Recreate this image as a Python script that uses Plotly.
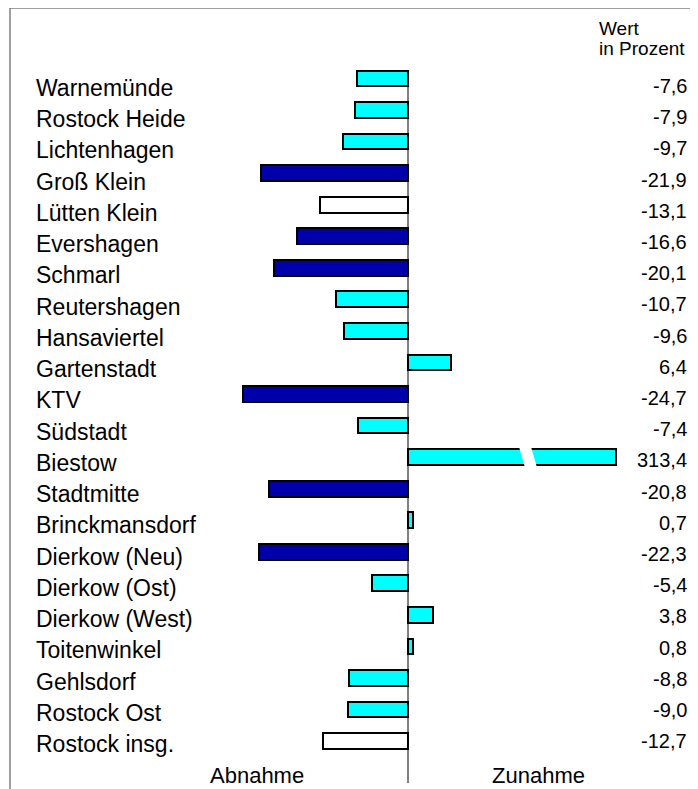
import plotly.graph_objects as go

districts = ["Warnemünde", "Rostock Heide", "Lichtenhagen", "Groß Klein", "Lütten Klein",
             "Evershagen", "Schmarl", "Reutershagen", "Hansaviertel", "Gartenstadt", "KTV",
             "Südstadt", "Biestow", "Stadtmitte", "Brinckmansdorf", "Dierkow (Neu)",
             "Dierkow (Ost)", "Dierkow (West)", "Toitenwinkel", "Gehlsdorf", "Rostock Ost",
             "Rostock insg."]
values = [-7.6, -7.9, -9.7, -21.9, -13.1, -16.6, -20.1, -10.7, -9.6, 6.4, -24.7,
          -7.4, 313.4, -20.8, 0.7, -22.3, -5.4, 3.8, 0.8, -8.8, -9.0, -12.7]
reference_rows = ["Lütten Klein", "Rostock insg."]
strong_decline = -15.0         # bars below this are dark blue
axis_break_cap = 31.1          # bars longer than this are drawn broken
header_text = ["Wert", "in Prozent"]
bottom_labels = ["Abnahme", "Zunahme"]

# page body has an 8px margin: work in screenshot pixels, shift by OFF
OFF = 8
W, H = 698 - OFF, 789 - OFF
L, T = 10 - OFF, 8 - OFF
px_per_unit = 6.69
zero_px = 408 - OFF
row0_px, row_step = 78.5 - OFF, 31.55

FONT = "Liberation Sans, Arial, sans-serif"
CYAN, BLUE, WHITE = "#00FFFF", "#0000AA", "#FFFFFF"

def color_for(name, v):
    if name in reference_rows:
        return WHITE
    if v < strong_decline:
        return BLUE
    return CYAN

n = len(districts)
ypos = list(range(n))
shown = [min(v, axis_break_cap) for v in values]
colors = [color_for(d, v) for d, v in zip(districts, values)]

fig = go.Figure(go.Bar(
    x=shown, y=ypos, orientation="h", width=0.5,
    marker=dict(color=colors, line=dict(color="black", width=2)),
    hoverinfo="skip",
))

xr = [-(zero_px - L) / px_per_unit, (W - zero_px) / px_per_unit]
ytop = (T - row0_px) / row_step
ybot = (H - row0_px) / row_step

pw = W - L
ph = H - T

def xpaper(px):
    return (px - OFF - L) / pw

def ypaper(py):
    return 1 - (py - OFF - T) / ph

annotations = []
for i, (d, v) in enumerate(zip(districts, values)):
    annotations.append(dict(
        text=d, xref="paper", x=xpaper(34), xanchor="left",
        yref="y", y=i, yanchor="middle", yshift=-(9.5 - 0.31 * i),
        showarrow=False, font=dict(family=FONT, size=23, color="black")))
    annotations.append(dict(
        text=f"{v:.1f}".replace(".", ","), xref="paper", x=xpaper(689), xanchor="right",
        yref="y", y=i, yanchor="middle", yshift=-(7.5 - 0.35 * i),
        showarrow=False, font=dict(family=FONT, size=20, color="black")))

annotations.append(dict(text=header_text[0], xref="paper", x=xpaper(597), xanchor="left",
                        yref="paper", y=ypaper(28), yanchor="middle", showarrow=False,
                        font=dict(family=FONT, size=19, color="black")))
annotations.append(dict(text=header_text[1], xref="paper", x=xpaper(597), xanchor="left",
                        yref="paper", y=ypaper(49), yanchor="middle", showarrow=False,
                        font=dict(family=FONT, size=19, color="black")))
annotations.append(dict(text=bottom_labels[0], xref="paper", x=xpaper(257), xanchor="center",
                        yref="paper", y=ypaper(775), yanchor="middle", showarrow=False,
                        font=dict(family=FONT, size=22, color="black")))
annotations.append(dict(text=bottom_labels[1], xref="paper", x=xpaper(538), xanchor="center",
                        yref="paper", y=ypaper(775), yanchor="middle", showarrow=False,
                        font=dict(family=FONT, size=22, color="black")))

shapes = [
    # frame
    dict(type="line", xref="paper", yref="paper", x0=0, x1=1, y0=1, y1=1,
         line=dict(color="#404040", width=1)),
    dict(type="line", xref="paper", yref="paper", x0=0, x1=0, y0=0, y1=1,
         line=dict(color="#404040", width=1)),
    # zero line
    dict(type="line", xref="x", yref="y", x0=0, x1=0, y0=-0.25,
         y1=(783 - OFF - row0_px) / row_step,
         line=dict(color="black", width=1)),
]

def dx(px):
    return (px - OFF - zero_px) / px_per_unit

# break marks on bars exceeding the cap
for i, v in enumerate(values):
    if v > axis_break_cap:
        yt, yb = i - 0.33, i + 0.33
        shapes.append(dict(
            type="path", xref="x", yref="y",
            path=f"M {dx(519)} {yt} L {dx(531)} {yt} L {dx(537)} {yb} L {dx(525)} {yb} Z",
            fillcolor="white", line=dict(width=0), layer="above"))

fig.update_layout(
    width=W, height=H,
    margin=dict(l=L, r=0, t=T, b=0),
    paper_bgcolor="white", plot_bgcolor="white",
    showlegend=False,
    xaxis=dict(range=xr, visible=False, fixedrange=True),
    yaxis=dict(range=[ybot, ytop], visible=False, fixedrange=True),
    annotations=annotations, shapes=shapes,
    bargap=0,
)

fig.write_html("out.html")
